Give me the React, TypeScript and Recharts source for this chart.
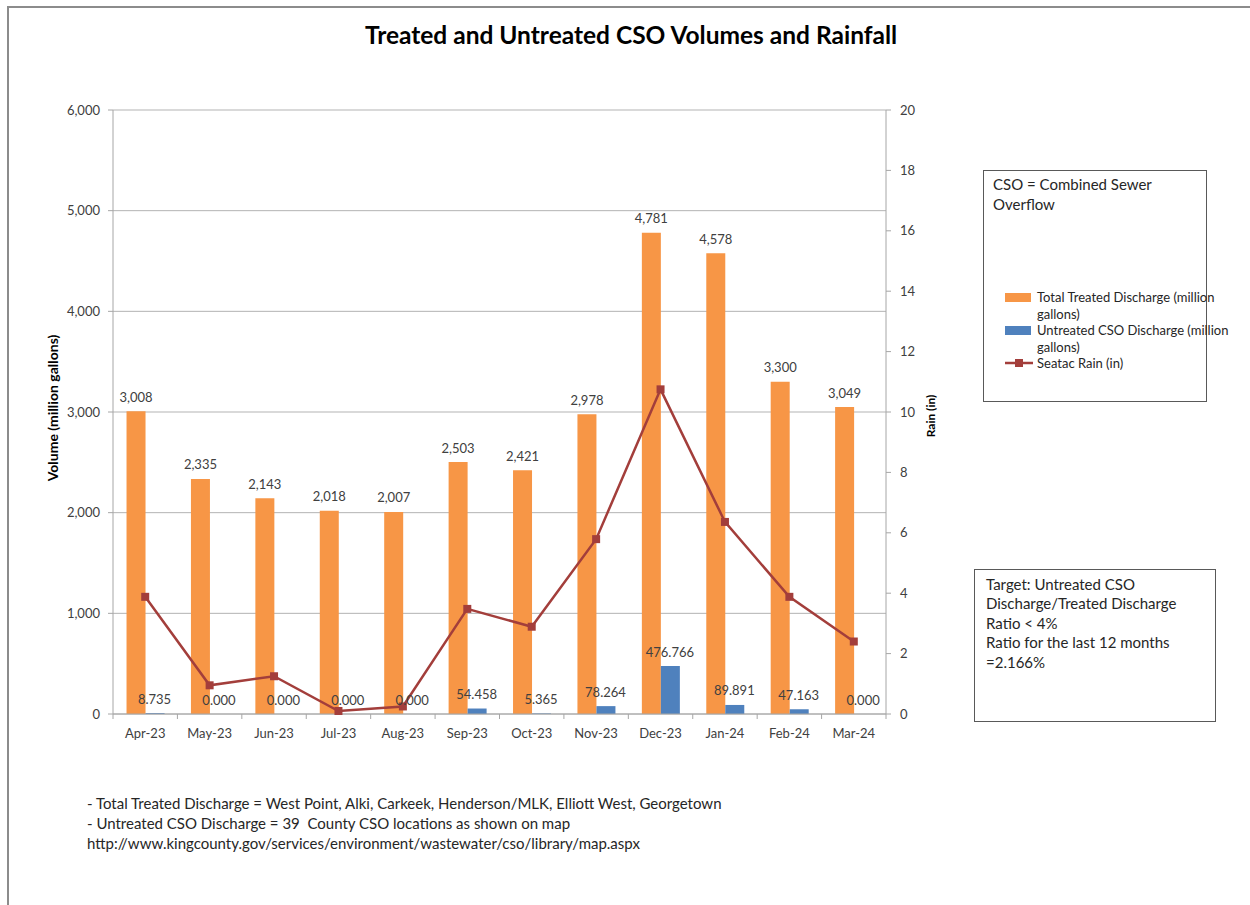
import React from 'react';
import { ComposedChart, Bar, Line, XAxis, YAxis, CartesianGrid, LabelList } from 'recharts';

const months = ['Apr-23', 'May-23', 'Jun-23', 'Jul-23', 'Aug-23', 'Sep-23', 'Oct-23', 'Nov-23', 'Dec-23', 'Jan-24', 'Feb-24', 'Mar-24'];
const treated = [3008, 2335, 2143, 2018, 2007, 2503, 2421, 2978, 4781, 4578, 3300, 3049];
const untreated = [8.735, 0, 0, 0, 0, 54.458, 5.365, 78.264, 476.766, 89.891, 47.163, 0];
const rain = [3.88, 0.95, 1.25, 0.1, 0.25, 3.48, 2.89, 5.79, 10.75, 6.36, 3.88, 2.4];
const volumeTicks = [0, 1000, 2000, 3000, 4000, 5000, 6000];
const rainTicks = [0, 2, 4, 6, 8, 10, 12, 14, 16, 18, 20];

const data = months.map((m, i) => ({ month: m, treated: treated[i], untreated: untreated[i], rain: rain[i] }));

const ORANGE = '#F79646';
const BLUE = '#4F81BD';
const RED = '#A33E3B';
const AXIS = '#A6A6A6';
const TEXT = '#404040';
const FONT = 'Lato, "Open Sans", sans-serif';

const W = 1250;
const H = 905;
const M = { top: 110, left: 53, right: 314, bottom: 161 };
const LEFT_AXIS_W = 60;
const RIGHT_AXIS_W = 50;
const PLOT_W = W - M.left - M.right - LEFT_AXIS_W - RIGHT_AXIS_W;
const BAND = PLOT_W / months.length;
const GAP = 0.21;
const BAR_W = (BAND * (1 - 2 * GAP)) / 2;

const fmtThousands = (v: number) => v.toLocaleString('en-US');

const XTick = (props: any) => {
  const { x, y, payload, index } = props;
  return (
    <g>
      <line x1={x - BAND / 2} x2={x - BAND / 2} y1={y} y2={y + 5} stroke={AXIS} />
      {index === months.length - 1 && (
        <line x1={x + BAND / 2} x2={x + BAND / 2} y1={y} y2={y + 5} stroke={AXIS} />
      )}
      <text x={x} y={y + 23.5} textAnchor="middle" fontSize={13} fill={TEXT} fontFamily={FONT}>
        {payload.value}
      </text>
    </g>
  );
};

const SquareDot = (props: any) => {
  const { cx, cy, index } = props;
  if (cx == null || cy == null) return null;
  return <rect key={`d${index}`} x={cx - 4} y={cy - 4} width={8} height={8} fill={RED} />;
};

const TreatedLabel = (props: any) => {
  const { x, y, width, value } = props;
  return (
    <text x={Number(x) + Number(width) / 2} y={Number(y) - 9.5} textAnchor="middle" fontSize={13} fill={TEXT} fontFamily={FONT}>
      {fmtThousands(Number(value))}
    </text>
  );
};

const UntreatedLabel = (props: any) => {
  const { x, y, value } = props;
  return (
    <text x={Number(x) + BAR_W / 2} y={Number(y) - 9.5} textAnchor="middle" fontSize={13} fill={TEXT} fontFamily={FONT}>
      {Number(value).toFixed(3)}
    </text>
  );
};

const boxText: React.CSSProperties = { color: '#262626', whiteSpace: 'nowrap' };

export default function App() {
  return (
    <div style={{ position: 'absolute', left: 0, top: 0, width: W, height: H, background: '#fff', fontFamily: FONT, overflow: 'hidden' }}>
      <div style={{ position: 'absolute', left: 7, top: 6, width: 1300, height: 1000, borderLeft: '2px solid #8C8C8C', borderTop: '2px solid #8C8C8C' }} />
      <div style={{ position: 'absolute', left: 0, top: 20, width: 1262, textAlign: 'center', fontSize: 24.5, fontWeight: 700, color: '#000' }}>
        Treated and Untreated CSO Volumes and Rainfall
      </div>
      <ComposedChart
        width={W}
        height={H}
        data={data}
        margin={M}
        barCategoryGap={`${GAP * 100}%`}
        barGap={0}
        style={{ position: 'absolute', left: 0, top: 0 }}
      >
        <CartesianGrid yAxisId="left" vertical={false} stroke="#B3B3B3" />
        <XAxis
          dataKey="month"
          height={30}
          stroke={AXIS}
          tickLine={false}
          tickSize={0}
          tickMargin={0}
          tick={<XTick />}
          interval={0}
        />
        <YAxis
          yAxisId="left"
          width={LEFT_AXIS_W}
          domain={[0, 6000]}
          ticks={volumeTicks}
          tickFormatter={fmtThousands}
          stroke={AXIS}
          tickSize={5}
          tickMargin={8}
          tick={{ fontSize: 13, fill: TEXT, fontFamily: FONT }}
          interval={0}
        />
        <YAxis
          yAxisId="right"
          orientation="right"
          width={RIGHT_AXIS_W}
          domain={[0, 20]}
          ticks={rainTicks}
          stroke={AXIS}
          tickSize={5}
          tickMargin={9}
          tick={{ fontSize: 13, fill: TEXT, fontFamily: FONT }}
          interval={0}
        />
        <Bar yAxisId="left" dataKey="treated" fill={ORANGE} isAnimationActive={false}>
          <LabelList dataKey="treated" content={<TreatedLabel />} />
        </Bar>
        <Bar yAxisId="left" dataKey="untreated" fill={BLUE} isAnimationActive={false} />
        <Line yAxisId="left" dataKey="untreated" stroke="none" dot={false} activeDot={false} legendType="none" isAnimationActive={false}>
          <LabelList dataKey="untreated" content={<UntreatedLabel />} />
        </Line>
        <Line yAxisId="right" dataKey="rain" stroke={RED} strokeWidth={2.5} dot={SquareDot} activeDot={false} isAnimationActive={false} />
      </ComposedChart>

      <div style={{ position: 'absolute', left: 52, top: 408, transform: 'translate(-50%, -50%) rotate(-90deg)', fontSize: 14, fontWeight: 700, color: '#000', whiteSpace: 'nowrap' }}>
        Volume (million gallons)
      </div>
      <div style={{ position: 'absolute', left: 930, top: 416, transform: 'translate(-50%, -50%) rotate(-90deg)', fontSize: 12, fontWeight: 700, color: '#000', whiteSpace: 'nowrap' }}>
        Rain (in)
      </div>

      <div style={{ position: 'absolute', left: 983, top: 170, width: 222, height: 230, border: '1.5px solid #595959' }} />
      <div style={{ position: 'absolute', left: 993, top: 174, fontSize: 15, lineHeight: '20px', ...boxText }}>
        <div>CSO = Combined Sewer</div>
        <div>Overflow</div>
      </div>
      <div style={{ position: 'absolute', left: 1005, top: 289, fontSize: 13, lineHeight: '16.5px', ...boxText }}>
        <div style={{ display: 'flex', alignItems: 'flex-start' }}>
          <span style={{ display: 'inline-block', width: 26, height: 9, background: ORANGE, marginTop: 4, marginRight: 6, flexShrink: 0 }} />
          <span>Total Treated Discharge (million<br />gallons)</span>
        </div>
        <div style={{ display: 'flex', alignItems: 'flex-start' }}>
          <span style={{ display: 'inline-block', width: 26, height: 9, background: BLUE, marginTop: 4, marginRight: 6, flexShrink: 0 }} />
          <span>Untreated CSO Discharge (million<br />gallons)</span>
        </div>
        <div style={{ display: 'flex', alignItems: 'center' }}>
          <svg width={28} height={14} style={{ marginRight: 4, flexShrink: 0 }}>
            <line x1={0} x2={28} y1={7} y2={7} stroke={RED} strokeWidth={2.5} />
            <rect x={10} y={3} width={8} height={8} fill={RED} />
          </svg>
          <span>Seatac Rain (in)</span>
        </div>
      </div>

      <div style={{ position: 'absolute', left: 974, top: 569, width: 240, height: 151, border: '1.5px solid #595959' }} />
      <div style={{ position: 'absolute', left: 986, top: 575, fontSize: 15, lineHeight: '19.4px', ...boxText }}>
        <div>Target: Untreated CSO</div>
        <div>Discharge/Treated Discharge</div>
        <div>Ratio &lt; 4%</div>
        <div>Ratio for the last 12 months</div>
        <div>=2.166%</div>
      </div>

      <div style={{ position: 'absolute', left: 87, top: 793, fontSize: 15, lineHeight: '20px', ...boxText }}>
        <div>- Total Treated Discharge = West Point, Alki, Carkeek, Henderson/MLK, Elliott West, Georgetown</div>
        <div>- Untreated CSO Discharge = 39&nbsp; County CSO locations as shown on map</div>
        <div>http://www.kingcounty.gov/services/environment/wastewater/cso/library/map.aspx</div>
      </div>
    </div>
  );
}
